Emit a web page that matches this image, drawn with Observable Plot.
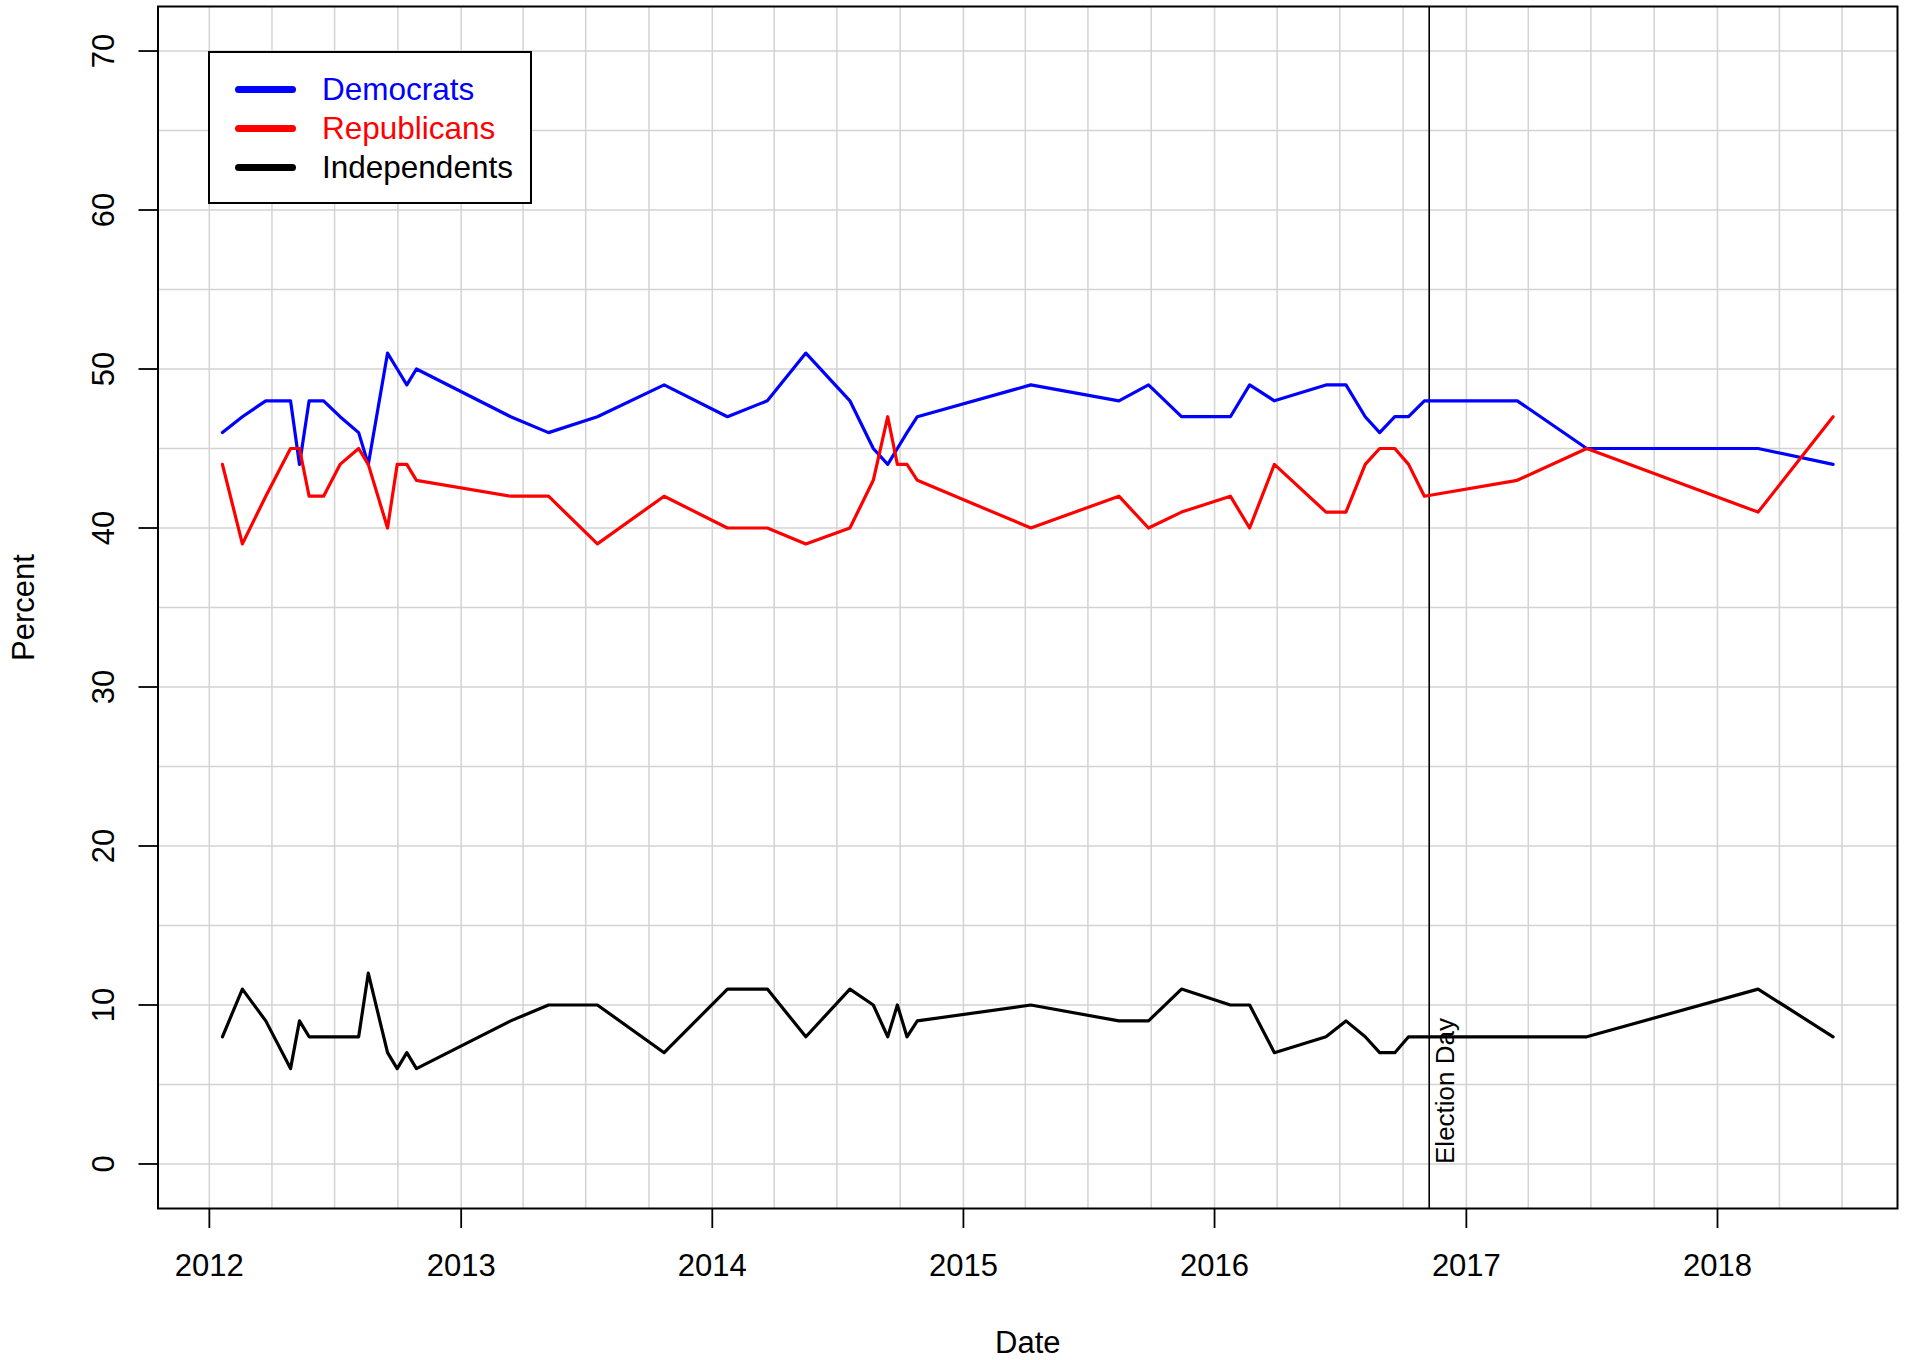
<!DOCTYPE html>
<html>
<head>
<meta charset="utf-8">
<script src="https://cdn.jsdelivr.net/npm/d3@7"></script>
<script src="https://cdn.jsdelivr.net/npm/@observablehq/plot@0.6"></script>
<style>
  html, body { margin: 0; padding: 0; background: white; }
  #wrap { position: relative; width: 1907px; height: 1360px; overflow: hidden; font-family: "Liberation Sans", Arial, sans-serif; }
  #wrap svg { display: block; }
  #legend { position: absolute; left: 208px; top: 51px; width: 324px; height: 153px; box-sizing: border-box; border: 2px solid black; background: white; }
  .sw { position: absolute; left: 25px; width: 61px; height: 7px; border-radius: 3.5px; }
  .lb { position: absolute; left: 112px; height: 40px; line-height: 40px; font-size: 31.5px; white-space: nowrap; }
</style>
</head>
<body>
<div id="wrap"></div>
<script>
// Poll dates
const dates = ["2012-01-20","2012-02-18","2012-03-23","2012-04-28","2012-05-11","2012-05-25","2012-06-15","2012-07-09","2012-08-05","2012-08-19","2012-09-16","2012-09-30","2012-10-14","2012-10-28","2013-03-14","2013-05-08","2013-07-18","2013-10-23","2014-01-23","2014-03-22","2014-05-17","2014-07-20","2014-08-23","2014-09-13","2014-09-27","2014-10-11","2014-10-26","2015-04-09","2015-08-15","2015-09-27","2015-11-14","2016-01-24","2016-02-21","2016-03-28","2016-06-11","2016-07-10","2016-08-07","2016-08-28","2016-09-19","2016-10-09","2016-11-01","2017-03-16","2017-06-25","2018-03-01","2018-06-18"];
const democrats   = [46,47,48,48,44,48,48,47,46,44,51,50,49,50,47,46,47,49,47,48,51,48,45,44,45,46,47,49,48,49,47,47,49,48,49,49,47,46,47,47,48,48,45,45,44];
const republicans = [44,39,42,45,45,42,42,44,45,44,40,44,44,43,42,42,39,42,40,40,39,40,43,47,44,44,43,40,42,40,41,42,40,44,41,41,44,45,45,44,42,43,45,41,47];
const independents = [8,11,9,6,9,8,8,8,8,12,7,6,7,6,9,10,10,7,11,11,8,11,10,8,10,8,9,10,9,9,11,10,10,7,8,9,8,7,7,8,8,8,8,11,8];

const seriesNames = ["Democrats", "Republicans", "Independents"];
const seriesColors = ["#0000ff", "#ff0000", "#000000"];
const yTicks = [0, 10, 20, 30, 40, 50, 60, 70];
const xTickYears = ["2012","2013","2014","2015","2016","2017","2018"];
const electionDay = "2016-11-08";
const electionLabel = "Election Day";
const xLabel = "Date";
const yLabel = "Percent";

// Build tidy table
const parse = s => new Date(s + "T00:00:00Z");
const seriesValues = [democrats, republicans, independents];
const rows = [];
seriesNames.forEach((name, k) => {
  dates.forEach((d, i) => rows.push({date: parse(d), value: seriesValues[k][i], party: name}));
});

// R-style 4% padded domains
const ext = d3.extent(dates, parse);
const span = ext[1] - ext[0];
const xDomain = [new Date(+ext[0] - 0.04 * span), new Date(+ext[1] + 0.04 * span)];
const yDomain = [0 - 0.04 * 70, 70 + 0.04 * 70];

const quarterTicks = d3.utcMonth.every(3).range(parse("2012-01-01"), parse("2018-07-02"));
const gridYTicks = d3.range(0, 71, 5);
const xTicks = xTickYears.map(y => parse(y + "-01-01"));
const eDate = parse(electionDay);

const chart = Plot.plot({
  width: 1907,
  height: 1360,
  marginLeft: 157.5,
  marginRight: 10,
  marginTop: 6,
  marginBottom: 152,
  style: {fontFamily: "Liberation Sans, Arial, sans-serif", fontSize: "31px", background: "white", color: "black"},
  x: {type: "utc", domain: xDomain},
  y: {domain: yDomain},
  color: {domain: seriesNames, range: seriesColors},
  marks: [
    Plot.gridX({ticks: quarterTicks, stroke: "#d3d3d3", strokeOpacity: 1, strokeWidth: 1.5}),
    Plot.gridY({ticks: gridYTicks, stroke: "#d3d3d3", strokeOpacity: 1, strokeWidth: 1.5}),
    Plot.ruleX([eDate], {x: d => d, stroke: "black", strokeWidth: 1.6}),
    Plot.text([eDate], {x: d => d, y: () => 0, text: () => electionLabel, rotate: -90, textAnchor: "start", lineAnchor: "top", dx: 6, fontSize: 26, fill: "black"}),
    Plot.lineY(rows, {x: "date", y: "value", z: "party", stroke: "party", strokeWidth: 3.2, strokeLinejoin: "round", strokeLinecap: "round"}),
    Plot.frame({stroke: "black", strokeWidth: 2}),
    Plot.axisX({ticks: xTicks, tickFormat: d3.utcFormat("%Y"), tickSize: 20, tickPadding: 25, fontSize: 31, stroke: "black", strokeWidth: 1.8, label: null}),
    Plot.axisY({ticks: yTicks, tickSize: 19, tickRotate: -90, tickPadding: 25.5, fontSize: 31, stroke: "black", strokeWidth: 1.8, label: null}),
    Plot.text([xLabel], {frameAnchor: "bottom", text: d => d, dy: 135, textAnchor: "middle", lineAnchor: "middle", fontSize: 31, fill: "black"}),
    Plot.text([yLabel], {frameAnchor: "left", text: d => d, dx: -133.5, rotate: -90, textAnchor: "middle", lineAnchor: "middle", fontSize: 31, fill: "black"})
  ]
});

const wrap = document.getElementById("wrap");
wrap.appendChild(chart);

// Legend (inside plot area, top-left)
const legend = document.createElement("div");
legend.id = "legend";
const rowCenters = [36, 75, 114];
seriesNames.forEach((name, i) => {
  const sw = document.createElement("div");
  sw.className = "sw";
  sw.style.background = seriesColors[i];
  sw.style.top = (rowCenters[i] - 3.5) + "px";
  legend.appendChild(sw);
  const lb = document.createElement("div");
  lb.className = "lb";
  lb.style.color = seriesColors[i];
  lb.style.top = (rowCenters[i] - 20) + "px";
  lb.textContent = name;
  legend.appendChild(lb);
});
wrap.appendChild(legend);
</script>
</body>
</html>
